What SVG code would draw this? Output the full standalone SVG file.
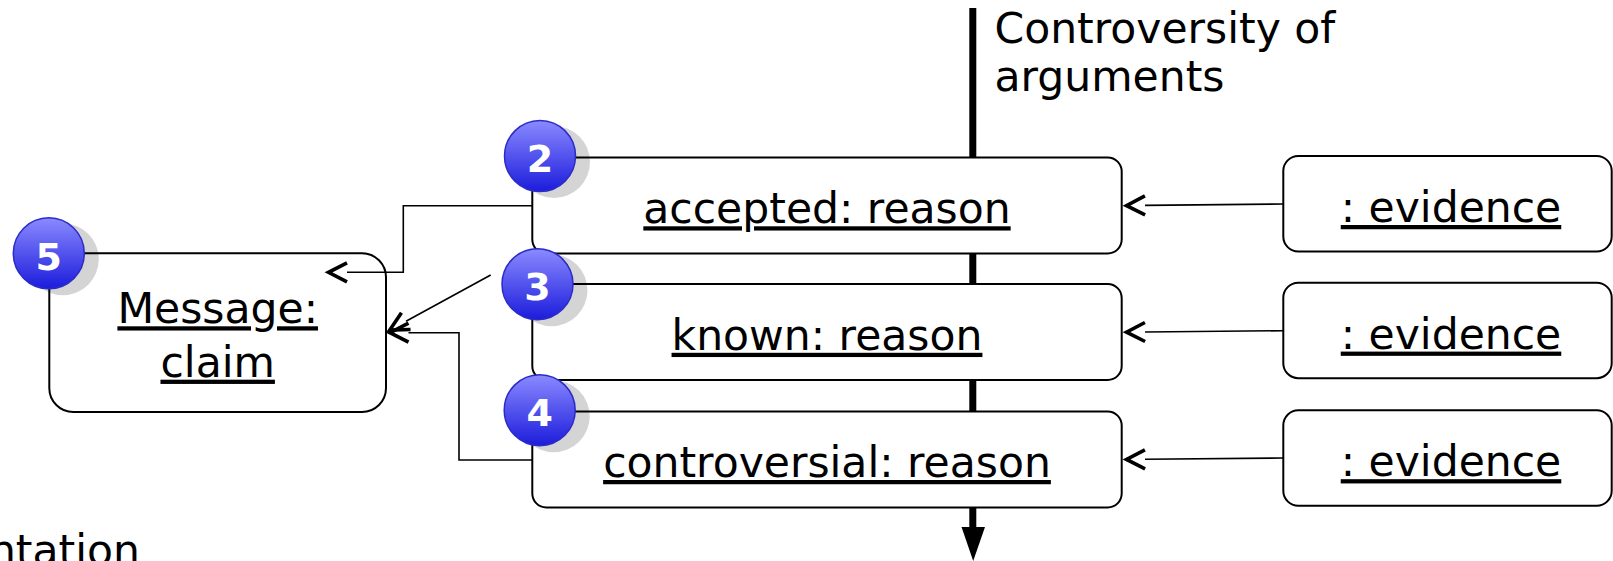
<svg xmlns="http://www.w3.org/2000/svg" width="1613" height="561" viewBox="0 0 1613 561">
  <defs>
    <style>
      .box { fill: #ffffff; stroke: #000000; stroke-width: 2; }
      .lbl { font-family: "DejaVu Sans", Verdana, sans-serif; font-size: 42.5px; fill: #000000; text-anchor: middle; text-decoration: underline; }
      .title { font-family: "DejaVu Sans", Verdana, sans-serif; font-size: 42.5px; fill: #000000; }
      .conn { fill: none; stroke: #000000; stroke-width: 1.6; }
      .badge { fill: url(#blue); stroke: #2b2bc8; stroke-width: 1.5; }
      .shadow { fill: #000000; fill-opacity: 0.17; }
      .num { font-family: "DejaVu Sans", Verdana, sans-serif; font-weight: bold; font-size: 38px; fill: #ffffff; text-anchor: middle; }
    </style>
    <linearGradient id="blue" x1="0" y1="0" x2="0" y2="1">
      <stop offset="0" stop-color="#8a8aff"/>
      <stop offset="1" stop-color="#1c1cdc"/>
    </linearGradient>
    <marker id="open" markerUnits="userSpaceOnUse" orient="auto" refX="0" refY="0" markerWidth="40" markerHeight="40" viewBox="-10 -20 40 40" overflow="visible">
      <path d="M0,-9.5 L18.5,0 L0,9.5" fill="none" stroke="#000000" stroke-width="3.6"/>
    </marker>
  </defs>

  <g id="axis">
    <rect x="969.3" y="8" width="7" height="521"/>
    <polygon points="961.5,527 985,527 973.2,561"/>
    <text class="title" x="994.5" y="43">Controversity of</text>
    <text class="title" x="994.5" y="90.5">arguments</text>
  </g>

  <g id="caption">
    <text class="title" x="140" y="565" text-anchor="end">ntation</text>
  </g>

  <g id="node-message">
    <rect class="box" x="49.3" y="253.3" width="336.7" height="158.7" rx="24" ry="24"/>
    <text class="lbl" x="217.7" y="323.3">Message:</text>
    <text class="lbl" x="217.7" y="376.7">claim</text>
    <circle class="shadow" cx="62.8" cy="259.3" r="36"/>
    <circle class="badge" cx="48.8" cy="253.3" r="35.5"/>
    <text class="num" x="48.8" y="269.5">5</text>
  </g>

  <g id="node-accepted">
    <rect class="box" x="532.3" y="157.5" width="589.4" height="96" rx="14" ry="14"/>
    <text class="lbl" x="827" y="223.3">accepted: reason</text>
    <circle class="shadow" cx="554" cy="162" r="36"/>
    <circle class="badge" cx="540" cy="156" r="35.5"/>
    <text class="num" x="540" y="172.2">2</text>
  </g>

  <g id="node-known">
    <rect class="box" x="532.3" y="284" width="589.4" height="96" rx="14" ry="14"/>
    <text class="lbl" x="827" y="349.8">known: reason</text>
    <circle class="shadow" cx="551.5" cy="290.2" r="36"/>
    <circle class="badge" cx="537.5" cy="284.2" r="35.5"/>
    <text class="num" x="537.5" y="300">3</text>
  </g>

  <g id="node-controversial">
    <rect class="box" x="532.3" y="411.5" width="589.4" height="96" rx="14" ry="14"/>
    <text class="lbl" x="827" y="477">controversial: reason</text>
    <circle class="shadow" cx="553.7" cy="416.2" r="36"/>
    <circle class="badge" cx="539.7" cy="410.2" r="35.5"/>
    <text class="num" x="539.7" y="426.2">4</text>
  </g>

  <g id="node-evidence-1">
    <rect class="box" x="1283.3" y="156" width="328.4" height="95.5" rx="15" ry="15"/>
    <text class="lbl" x="1451" y="222">: evidence</text>
  </g>

  <g id="node-evidence-2">
    <rect class="box" x="1283.3" y="282.7" width="328.4" height="95.5" rx="15" ry="15"/>
    <text class="lbl" x="1451" y="348.6">: evidence</text>
  </g>

  <g id="node-evidence-3">
    <rect class="box" x="1283.3" y="410.3" width="328.4" height="95.5" rx="15" ry="15"/>
    <text class="lbl" x="1451" y="476.2">: evidence</text>
  </g>

  <g id="connectors">
    <path class="conn" d="M532.3,205.7 H403.3 V272.3 H347" marker-end="url(#open)"/>
    <path class="conn" d="M490.7,275 L406,321.2" marker-end="url(#open)"/>
    <path class="conn" d="M532.3,460 H459 V332.7 H408.5" marker-end="url(#open)"/>
    <path class="conn" d="M1283.3,204 L1145,205.4" marker-end="url(#open)"/>
    <path class="conn" d="M1283.3,330.7 L1145,332" marker-end="url(#open)"/>
    <path class="conn" d="M1283.3,458 L1145,459.3" marker-end="url(#open)"/>
  </g>
</svg>
